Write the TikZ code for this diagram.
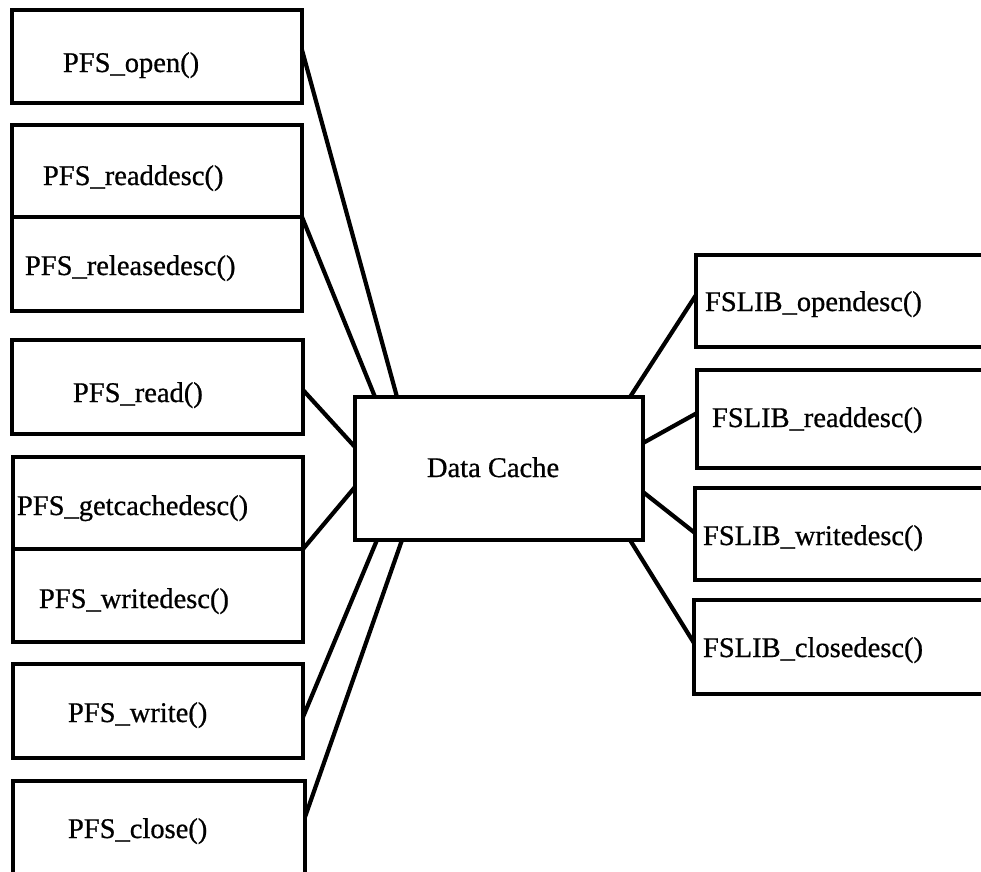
\documentclass[tikz,border=0pt]{standalone}
\usepackage{fontspec}
\setmainfont{Liberation Serif}
\newfontfamily\inkfont[FakeBold=0.7]{Liberation Serif}
\usetikzlibrary{calc}
\tikzset{
  fnbox/.style={draw=black, line width=3.8pt, rectangle, inner sep=0pt, outer sep=0pt},
  fnlabel/.style={inner sep=0pt, outer sep=0pt, anchor=base west,
                  font=\inkfont\fontsize{28.5}{30}\selectfont},
  link/.style={draw=black, line width=4.2pt}
}
\begin{document}
\begin{tikzpicture}[x=1pt, y=-1pt]
  % canvas
  \fill[white] (0,0) rectangle (981,871);
  \clip (0,0) rectangle (981,871);

  % caller-side interface boxes
  \node[fnbox, minimum width=290pt, minimum height=93pt]  (open)     at (157,56.5)  {};
  \node[fnbox, minimum width=290pt, minimum height=92pt]  (readd)    at (157,171)   {};
  \node[fnbox, minimum width=290pt, minimum height=94pt]  (reld)     at (157,264)   {};
  \node[fnbox, minimum width=291pt, minimum height=94pt]  (read)     at (157.5,387) {};
  \node[fnbox, minimum width=290pt, minimum height=92pt]  (getc)     at (158,503)   {};
  \node[fnbox, minimum width=290pt, minimum height=93pt]  (writed)   at (158,595.5) {};
  \node[fnbox, minimum width=290pt, minimum height=94pt]  (write)    at (158,711)   {};
  \node[fnbox, minimum width=292pt, minimum height=109pt] (close)    at (159,835.5) {};

  % central cache
  \node[fnbox, minimum width=288pt, minimum height=143pt] (dc)       at (499,468.5) {};

  % file-system library boxes
  \node[fnbox, minimum width=314pt, minimum height=92pt]  (fopen)    at (853,301)   {};
  \node[fnbox, minimum width=313pt, minimum height=98pt]  (fread)    at (853.5,419) {};
  \node[fnbox, minimum width=315pt, minimum height=92pt]  (fwrite)   at (852.5,534) {};
  \node[fnbox, minimum width=316pt, minimum height=94pt]  (fclose)   at (852,647)   {};

  % labels
  \node[fnlabel] (t-open)   at (63,72)   {PFS\_open()};
  \node[fnlabel] (t-readd)  at (43,185)  {PFS\_readdesc()};
  \node[fnlabel] (t-reld)   at (25,275)  {PFS\_releasedesc()};
  \node[fnlabel] (t-read)   at (73,402)  {PFS\_read()};
  \node[fnlabel] (t-getc)   at (17,515)  {PFS\_getcachedesc()};
  \node[fnlabel] (t-writed) at (39,608)  {PFS\_writedesc()};
  \node[fnlabel] (t-write)  at (68,722)  {PFS\_write()};
  \node[fnlabel] (t-close)  at (68,838)  {PFS\_close()};
  \node[fnlabel] (t-dc)     at (427,477) {Data Cache};
  \node[fnlabel] (t-fopen)  at (705,311) {FSLIB\_opendesc()};
  \node[fnlabel] (t-fread)  at (712,427) {FSLIB\_readdesc()};
  \node[fnlabel] (t-fwrite) at (703,545) {FSLIB\_writedesc()};
  \node[fnlabel] (t-fclose) at (703,657) {FSLIB\_closedesc()};

  % connectors to the cache
  \draw[link] ($(open.north east)+(0,40)$)  -- ($(dc.north west)+(42,0)$);
  \draw[link] (readd.south east)            -- ($(dc.north west)+(20,0)$);
  \draw[link] ($(read.north east)+(0,50)$)  -- ($(dc.north west)+(0,50)$);
  \draw[link] (getc.south east)             -- ($(dc.north west)+(0,90)$);
  \draw[link] ($(write.north east)+(0,53)$) -- ($(dc.south west)+(22,0)$);
  \draw[link] ($(close.north east)+(0,36)$) -- ($(dc.south west)+(47,0)$);

  \draw[link] ($(dc.north east)+(-13,0)$)   -- ($(fopen.north west)+(0,40)$);
  \draw[link] ($(dc.north east)+(0,46)$)    -- ($(fread.north west)+(0,43)$);
  \draw[link] ($(dc.north east)+(0,95)$)    -- ($(fwrite.north west)+(0,45)$);
  \draw[link] ($(dc.south east)+(-13,0)$)   -- ($(fclose.north west)+(0,43)$);
\end{tikzpicture}
\end{document}
